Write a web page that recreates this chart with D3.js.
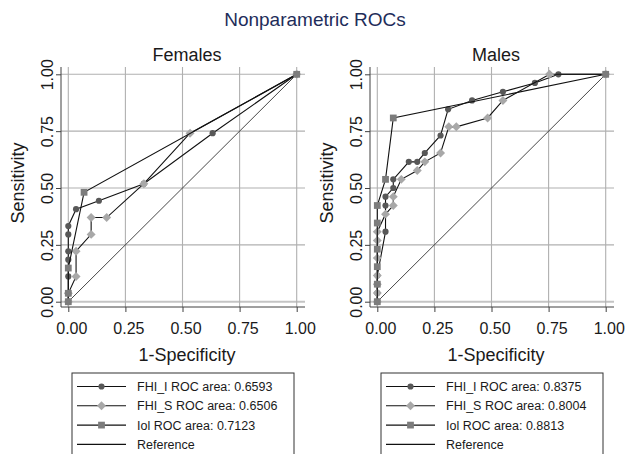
<!DOCTYPE html>
<html>
<head>
  <meta charset="utf-8">
  <title>Nonparametric ROCs</title>
  <script src="https://d3js.org/d3.v7.min.js"></script>
  <style>
    body { margin: 0; background: #fff; }
    svg text { font-family: "Liberation Sans", Arial, sans-serif; }
  </style>
</head>
<body>
  <div id="chart"></div>
  <script>
    // ROC points [1-specificity, sensitivity]
    var femFhiI = [[0,0],[0,0.037],[0,0.111],[0,0.185],[0,0.222],[0,0.296],[0,0.333],
      [0.034,0.407],[0.134,0.444],[0.331,0.519],[0.632,0.741],[1,1]];
    var femFhiS = [[0,0],[0,0.037],[0.034,0.111],[0.034,0.222],[0.1,0.296],[0.1,0.370],
      [0.168,0.370],[0.331,0.519],[0.533,0.741],[1,1]];
    var femIol = [[0,0],[0,0.037],[0,0.148],[0.069,0.481],[1,1]];

    var maleFhiI = [[0,0],[0,0.038],[0,0.077],[0,0.115],[0.036,0.308],[0.036,0.423],[0.036,0.462],
      [0.07,0.5],[0.07,0.538],[0.138,0.615],[0.175,0.615],[0.208,0.654],[0.277,0.731],
      [0.31,0.846],[0.415,0.885],[0.55,0.923],[0.69,0.962],[0.793,1],[1,1]];
    var maleFhiS = [[0,0],[0,0.038],[0,0.077],[0,0.115],[0,0.192],[0,0.269],[0,0.308],
      [0.036,0.385],[0.07,0.423],[0.07,0.462],[0.105,0.538],[0.175,0.577],[0.208,0.615],
      [0.277,0.654],[0.313,0.769],[0.346,0.769],[0.483,0.808],[0.55,0.885],[0.754,1],[1,1]];
    var maleIol = [[0,0],[0,0.077],[0,0.154],[0,0.231],[0,0.346],[0,0.423],[0.036,0.538],
      [0.07,0.808],[1,1]];

    var refLine = [[0,0],[1,1]];
    var ticks = [0, 0.25, 0.5, 0.75, 1];
    var femLegend = ["FHI_I ROC area: 0.6593", "FHI_S ROC area: 0.6506", "Iol ROC area: 0.7123", "Reference"];
    var maleLegend = ["FHI_I ROC area: 0.8375", "FHI_S ROC area: 0.8004", "Iol ROC area: 0.8813", "Reference"];

    var svg = d3.select("#chart").append("svg")
      .attr("width", 630)
      .attr("height", 454);

    svg.append("text")
      .attr("x", 315).attr("y", 26)
      .attr("text-anchor", "middle")
      .style("font-size", "19px")
      .style("fill", "#1e2d5a")
      .text("Nonparametric ROCs");

    // marker styles per series (diamond = square turned 45 degrees)
    var styles = [
      {shape: d3.symbolCircle, size: 30, fill: "#585858", rot: 0},
      {shape: d3.symbolSquare, size: 40, fill: "#a8a8a8", rot: 45},
      {shape: d3.symbolSquare, size: 46, fill: "#7c7c7c", rot: 0}
    ];

    function panel(left, title, series, legendText) {
      var g = svg.append("g").attr("transform", "translate(" + left + ",0)");
      // plot region 61..305 x 67..307 for the left panel
      var x = d3.scaleLinear().domain([0, 1]).range([7.3, 235.7]);
      var y = d3.scaleLinear().domain([0, 1]).range([301.7, 74.3]);
      var w = 244, top = 67, bottom = 307;

      // grid
      g.selectAll(".hgrid").data(ticks).enter().append("line")
        .attr("x1", 0).attr("x2", w)
        .attr("y1", function(d) { return y(d); }).attr("y2", function(d) { return y(d); })
        .attr("stroke", function(d) { return d === 0 ? "#c4c4c4" : "#b0b0b0"; })
        .attr("stroke-width", function(d) { return d === 0 ? 2 : 1.1; });
      g.selectAll(".vgrid").data(ticks).enter().append("line")
        .attr("y1", top).attr("y2", bottom)
        .attr("x1", function(d) { return x(d); }).attr("x2", function(d) { return x(d); })
        .attr("stroke", "#b0b0b0").attr("stroke-width", 1.1);

      // axes
      var ya = g.append("g")
        .call(d3.axisLeft(y).tickValues(ticks).tickFormat(d3.format(".2f")).tickSize(5).tickSizeOuter(0));
      ya.select(".domain").attr("d", "M0," + top + "V" + bottom).attr("stroke", "#404040");
      ya.selectAll(".tick line").attr("stroke", "#404040");
      ya.selectAll("text")
        .attr("transform", "rotate(-90)")
        .attr("x", 0).attr("y", -8.5).attr("dy", 0)
        .attr("text-anchor", "middle")
        .style("font-size", "16px").style("fill", "#1a1a1a")
        .attr("font-family", null);

      var xa = g.append("g").attr("transform", "translate(0," + bottom + ")")
        .call(d3.axisBottom(x).tickValues(ticks).tickFormat(d3.format(".2f")).tickSize(5).tickSizeOuter(0));
      xa.select(".domain").attr("d", "M0,0H" + w).attr("stroke", "#404040");
      xa.selectAll(".tick line").attr("stroke", "#404040");
      xa.selectAll("text")
        .attr("y", 27).attr("dy", 0).attr("x", 3)
        .style("font-size", "16px").style("fill", "#1a1a1a")
        .attr("font-family", null);

      // titles
      g.append("text").attr("x", 126).attr("y", 61)
        .attr("text-anchor", "middle").style("font-size", "18px").style("fill", "#1a1a1a")
        .text(title);
      g.append("text").attr("x", 126).attr("y", 361)
        .attr("text-anchor", "middle").style("font-size", "18px").style("fill", "#1a1a1a")
        .text("1-Specificity");
      g.append("text")
        .attr("transform", "translate(" + -37.5 + ",183) rotate(-90)")
        .attr("text-anchor", "middle").style("font-size", "18px").style("fill", "#1a1a1a")
        .text("Sensitivity");

      var line = d3.line().x(function(d) { return x(d[0]); }).y(function(d) { return y(d[1]); });

      // reference diagonal
      g.append("path").attr("d", line(refLine))
        .attr("fill", "none").attr("stroke", "#333").attr("stroke-width", 0.9);

      series.forEach(function(s, i) {
        g.append("path").attr("d", line(s))
          .attr("fill", "none").attr("stroke", "#111").attr("stroke-width", 1.1);
        g.selectAll(".m" + i).data(s).enter().append("path")
          .attr("transform", function(d) {
            return "translate(" + x(d[0]) + "," + y(d[1]) + ") rotate(" + styles[i].rot + ")";
          })
          .attr("d", d3.symbol().type(styles[i].shape).size(styles[i].size))
          .attr("fill", styles[i].fill);
      });

      // legend
      var lg = g.append("g").attr("transform", "translate(" + 11 + ",373)");
      lg.append("rect").attr("x", 0).attr("y", 0).attr("width", 222).attr("height", 100)
        .attr("fill", "#fff").attr("stroke", "#333").attr("stroke-width", 1);
      legendText.forEach(function(t, i) {
        var cy = 13.5 + i * 19.3;
        lg.append("line").attr("x1", 5).attr("x2", 54).attr("y1", cy).attr("y2", cy)
          .attr("stroke", "#111").attr("stroke-width", 1.1);
        if (i < 3) {
          lg.append("path").attr("transform", "translate(29.5," + cy + ") rotate(" + styles[i].rot + ")")
            .attr("d", d3.symbol().type(styles[i].shape).size(styles[i].size))
            .attr("fill", styles[i].fill);
        }
        lg.append("text").attr("x", 65).attr("y", cy + 4.5)
          .style("font-size", "12.5px").style("fill", "#1a1a1a")
          .text(t);
      });
    }

    panel(61, "Females", [femFhiI, femFhiS, femIol], femLegend);
    panel(370, "Males", [maleFhiI, maleFhiS, maleIol], maleLegend);
  </script>
</body>
</html>
